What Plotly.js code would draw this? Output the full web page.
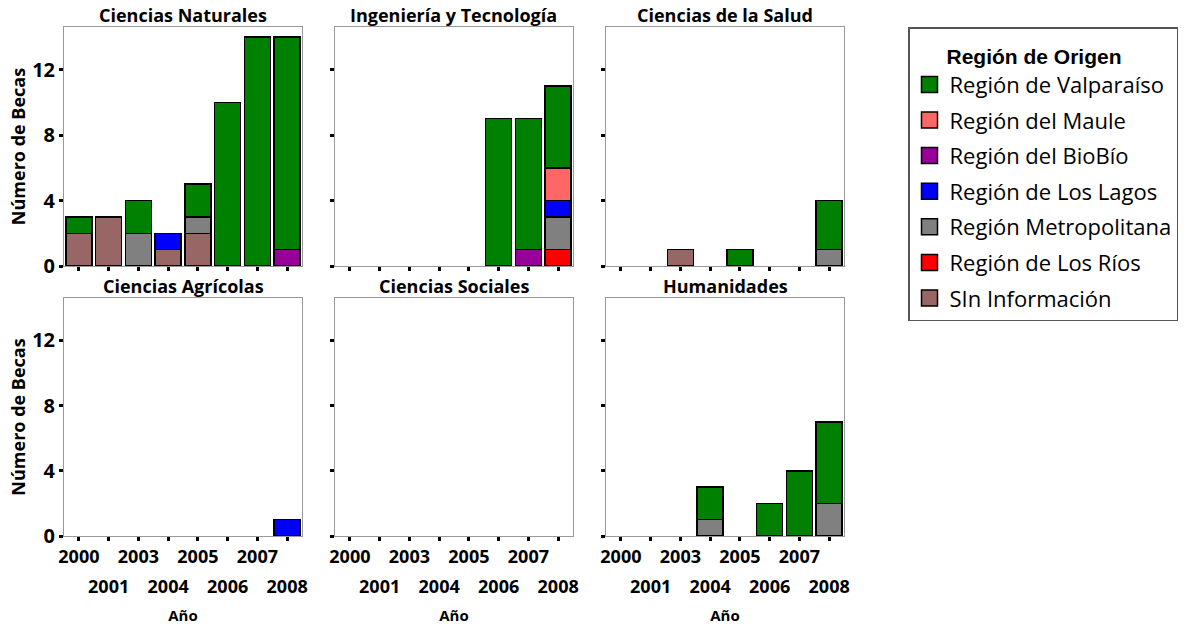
<!DOCTYPE html>
<html><head><meta charset="utf-8">
<script src="https://cdn.plot.ly/plotly-3.0.1.min.js"></script>
<style>html,body{margin:0;padding:0;background:#fff}#chart{width:1200px;height:627px}</style>
</head><body><div id="chart"></div>
<script>
const years = ['2000','2001','2003','2004','2005','2006','2007','2008'];
const panelTitles = ['Ciencias Naturales','Ingeniería y Tecnología','Ciencias de la Salud','Ciencias Agrícolas','Ciencias Sociales','Humanidades'];
const seriesNames = ['Región de Valparaíso','Región del Maule','Región del BioBío','Región de Los Lagos','Región Metropolitana','Región de Los Ríos','SIn Información'];
const seriesColors = ['#008000','#FF6666','#990099','#0000FF','#808080','#FF0000','#996666'];
const yTicks = [0,4,8,12];

// values: one row per panel (order of panelTitles), one column per year
const valparaiso = [
  [1,0,2,0,2,10,14,13],
  [0,0,0,0,0,9,8,5],
  [0,0,0,0,1,0,0,3],
  [0,0,0,0,0,0,0,0],
  [0,0,0,0,0,0,0,0],
  [0,0,0,2,0,2,4,5]
];
const maule = [
  [0,0,0,0,0,0,0,0],
  [0,0,0,0,0,0,0,2],
  [0,0,0,0,0,0,0,0],
  [0,0,0,0,0,0,0,0],
  [0,0,0,0,0,0,0,0],
  [0,0,0,0,0,0,0,0]
];
const biobio = [
  [0,0,0,0,0,0,0,1],
  [0,0,0,0,0,0,1,0],
  [0,0,0,0,0,0,0,0],
  [0,0,0,0,0,0,0,0],
  [0,0,0,0,0,0,0,0],
  [0,0,0,0,0,0,0,0]
];
const losLagos = [
  [0,0,0,1,0,0,0,0],
  [0,0,0,0,0,0,0,1],
  [0,0,0,0,0,0,0,0],
  [0,0,0,0,0,0,0,1],
  [0,0,0,0,0,0,0,0],
  [0,0,0,0,0,0,0,0]
];
const metropolitana = [
  [0,0,2,0,1,0,0,0],
  [0,0,0,0,0,0,0,2],
  [0,0,0,0,0,0,0,1],
  [0,0,0,0,0,0,0,0],
  [0,0,0,0,0,0,0,0],
  [0,0,0,1,0,0,0,2]
];
const losRios = [
  [0,0,0,0,0,0,0,0],
  [0,0,0,0,0,0,0,1],
  [0,0,0,0,0,0,0,0],
  [0,0,0,0,0,0,0,0],
  [0,0,0,0,0,0,0,0],
  [0,0,0,0,0,0,0,0]
];
const sinInfo = [
  [2,3,0,1,2,0,0,0],
  [0,0,0,0,0,0,0,0],
  [0,0,1,0,0,0,0,0],
  [0,0,0,0,0,0,0,0],
  [0,0,0,0,0,0,0,0],
  [0,0,0,0,0,0,0,0]
];
const seriesValues = [valparaiso, maule, biobio, losLagos, metropolitana, losRios, sinInfo];
const stackOrder = [6,5,4,3,2,1,0]; // bottom to top

const FONT = 'Open Sans, Liberation Sans, sans-serif';
const W = 1200, H = 627;
const colPx = [[64,302],[335,573],[606,844]];
const rowPx = [[27,266],[298,536]];

const data = [];
// legend proxies (legend order)
seriesNames.forEach((name, s) => {
  data.push({
    type:'scatter', mode:'markers', x:[null], y:[null], xaxis:'x', yaxis:'y',
    name: name, legendgroup: name, showlegend: true, hoverinfo:'skip',
    marker:{symbol:'square', size:20, color: seriesColors[s], line:{color:'#000', width:1.5}}
  });
});

const layout = {
  width: W, height: H, margin:{l:0,r:0,t:0,b:0},
  paper_bgcolor:'#fff', plot_bgcolor:'#fff',
  barmode:'stack', bargap:0.13,
  font:{family:FONT, color:'#000'},
  showlegend:true,
  legend:{
    x: 908/W, y: 1-27/H, xanchor:'left', yanchor:'top',
    bordercolor:'#555', borderwidth:1.5, bgcolor:'#fff',
    font:{size:22, family:FONT, color:'#000'},
    title:{text:'<span style="font-size:21px">      Región de Origen</span>', font:{size:27, weight:700, family:'Liberation Sans, Arial, sans-serif', color:'#000'}},
    traceorder:'grouped', tracegroupgap:4, itemsizing:'trace'
  },
  annotations: []
};

panelTitles.forEach((title, p) => {
  const col = p % 3, row = Math.floor(p / 3);
  const k = p + 1;
  const xid = k === 1 ? 'x' : 'x' + k;
  const yid = k === 1 ? 'y' : 'y' + k;
  const xd = [colPx[col][0]/W, colPx[col][1]/W];
  const yd = [1 - rowPx[row][1]/H, 1 - rowPx[row][0]/H];

  stackOrder.forEach(s => {
    data.push({
      type:'bar', x: years, y: seriesValues[s][p].map(v => v || null),
      xaxis: xid, yaxis: yid, name: seriesNames[s], legendgroup: seriesNames[s],
      showlegend:false,
      marker:{color: seriesColors[s], line:{color:'#000', width:1.5}}
    });
  });

  layout['xaxis' + (k === 1 ? '' : k)] = {
    domain: xd, anchor: yid, type:'category', categoryorder:'array', categoryarray: years,
    range:[-0.5, 7.5], showline:true, mirror:true, linecolor:'#999', linewidth:1,
    ticks:'outside', ticklen:4, tickwidth:3, tickcolor:'#000',
    showgrid:false, zeroline:false, fixedrange:true,
    tickmode:'array', tickvals: years, ticktext: years.map((y,j) => j % 2 === 0 ? y : ''),
    showticklabels: row === 1,
    tickfont:{size:18, weight:700, family:FONT, color:'#000'}
  };
  layout['yaxis' + (k === 1 ? '' : k)] = {
    domain: yd, anchor: xid, range:[0, 14.6],
    tickmode:'array', tickvals: yTicks,
    ticks:'outside', ticklen:4, tickwidth:3, tickcolor:'#000',
    showline:true, mirror:true, linecolor:'#999', linewidth:1,
    showgrid:false, zeroline:false, fixedrange:true,
    showticklabels: col === 0,
    tickfont:{size:20, weight:700, family:FONT, color:'#000'},
    title: col === 0 ? {text:'Número de Becas', font:{size:18, weight:700, family:FONT, color:'#000'}, standoff:1} : undefined
  };

  if (row === 1) {
    const ok = 7 + col;
    layout['xaxis' + ok] = {
      overlaying: xid, anchor: yid, side:'bottom', type:'linear', range:[-0.5, 7.5],
      tickmode:'array', tickvals: [1,3,5,7], ticktext: years.filter((y,j) => j % 2 === 1),
      ticks:'', showline:false, showgrid:false, zeroline:false, fixedrange:true,
      ticklabelstandoff: 38,
      tickfont:{size:18, weight:700, family:FONT, color:'#000'},
      title:{text:'Año', font:{size:15, weight:700, family:FONT, color:'#000'}, standoff:13}
    };
    data.push({type:'scatter', mode:'markers', x:[null], y:[null], xaxis:'x' + ok, yaxis: yid, showlegend:false, hoverinfo:'skip'});
  }

  layout.annotations.push({
    text: title, xref:'paper', yref:'paper', x:(xd[0]+xd[1])/2, y: yd[1],
    xanchor:'center', yanchor:'bottom', showarrow:false, yshift:-2,
    font:{size:18, weight:700, family:FONT, color:'#000'}
  });
});

Plotly.newPlot('chart', data, layout, {displayModeBar:false, staticPlot:true});
</script>
</body></html>
